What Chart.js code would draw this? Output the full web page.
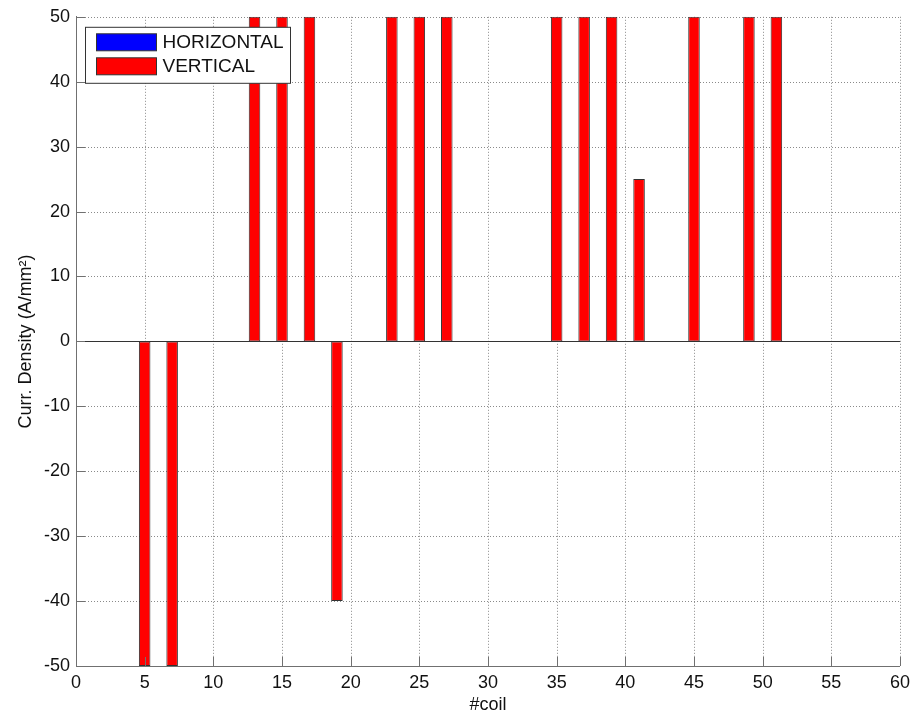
<!DOCTYPE html>
<html>
<head>
<meta charset="utf-8">
<title>Coil current density</title>
<script src="https://cdn.jsdelivr.net/npm/chart.js@4/dist/chart.umd.min.js"></script>
<style>
  html, body { margin: 0; padding: 0; background: #ffffff; }
  #wrap { width: 916px; height: 719px; }
</style>
</head>
<body>
<div id="wrap"><canvas id="c" width="916" height="719"></canvas></div>
<script>
// Coil numbers and current densities (A/mm^2)
const verticalCoils  = [5, 7, 13, 15, 17, 19, 23, 25, 27, 35, 37, 39, 41, 45, 49, 51];
const verticalValues = [-50, -50, 50, 50, 50, -40, 50, 50, 50, 50, 50, 50, 25, 50, 50, 50];
const horizontalCoils  = [];
const horizontalValues = [];

// Axis ranges and tick steps
const xTickRange = [0, 60, 5];
const yTickRange = [-50, 50, 10];

const seriesNames = ['HORIZONTAL', 'VERTICAL'];
const FONT = "'Liberation Sans', Arial, Helvetica, sans-serif";

function pairs(xs, ys) { return xs.map((x, i) => ({ x: x, y: ys[i] })); }

// Dotted grid, zero baseline, inward tick marks and boxed legend
const gridPlugin = {
  id: 'matlabGrid',
  beforeDatasetsDraw(chart) {
    const { ctx, chartArea: a, scales: { x, y } } = chart;
    ctx.save();
    ctx.strokeStyle = '#8a8a8a';
    ctx.lineWidth = 1;
    ctx.setLineDash([1, 2]);
    x.ticks.forEach(t => {
      if (t.value === x.min) return;
      const px = Math.round(x.getPixelForValue(t.value)) + 0.5;
      ctx.beginPath(); ctx.moveTo(px, a.top); ctx.lineTo(px, a.bottom); ctx.stroke();
    });
    y.ticks.forEach(t => {
      if (t.value === y.min) return;
      const py = Math.round(y.getPixelForValue(t.value)) + 0.5;
      ctx.beginPath(); ctx.moveTo(a.left, py); ctx.lineTo(a.right, py); ctx.stroke();
    });
    ctx.setLineDash([]);
    // bar baseline
    const y0 = Math.round(y.getPixelForValue(0)) + 0.5;
    ctx.strokeStyle = '#333333';
    ctx.beginPath(); ctx.moveTo(a.left, y0); ctx.lineTo(a.right, y0); ctx.stroke();
    ctx.restore();
  },
  afterDatasetsDraw(chart) {
    const { ctx, chartArea: a, scales: { x, y } } = chart;
    const len = 9;
    ctx.save();
    ctx.strokeStyle = '#707070';
    ctx.lineWidth = 1;
    x.ticks.forEach(t => {
      const px = Math.round(x.getPixelForValue(t.value)) + 0.5;
      ctx.beginPath(); ctx.moveTo(px, a.bottom); ctx.lineTo(px, a.bottom - len); ctx.stroke();
    });
    y.ticks.forEach(t => {
      const py = Math.round(y.getPixelForValue(t.value)) + 0.5;
      ctx.beginPath(); ctx.moveTo(a.left, py); ctx.lineTo(a.left + len, py); ctx.stroke();
    });
    ctx.restore();
  },
  afterDraw(chart) {
    const { ctx, chartArea: a } = chart;
    const bx = a.left + 9.5, by = a.top + 10.5, bw = 205, bh = 56;
    ctx.save();
    ctx.fillStyle = '#ffffff';
    ctx.fillRect(bx, by, bw, bh);
    ctx.strokeStyle = '#333333';
    ctx.lineWidth = 1;
    ctx.strokeRect(bx, by, bw, bh);
    ctx.font = '19px ' + FONT;
    ctx.textBaseline = 'middle';
    ctx.textAlign = 'left';
    chart.data.datasets.forEach((ds, i) => {
      const sy = by + 6.5 + i * 24;
      ctx.fillStyle = ds.backgroundColor;
      ctx.fillRect(bx + 11, sy, 60, 17);
      ctx.strokeStyle = '#333333';
      ctx.strokeRect(bx + 11, sy, 60, 17);
      ctx.fillStyle = '#111111';
      ctx.fillText(ds.label, bx + 77, sy + 9);
    });
    ctx.restore();
  }
};

new Chart(document.getElementById('c'), {
  type: 'bar',
  data: {
    datasets: [
      {
        label: seriesNames[0],
        data: pairs(horizontalCoils, horizontalValues),
        backgroundColor: '#0000ff',
        borderColor: '#333333',
        borderWidth: 1,
        borderSkipped: false,
        grouped: false,
        barPercentage: 0.42,
        categoryPercentage: 1
      },
      {
        label: seriesNames[1],
        data: pairs(verticalCoils, verticalValues),
        backgroundColor: '#ff0000',
        borderColor: '#333333',
        borderWidth: 1,
        borderSkipped: false,
        grouped: false,
        barPercentage: 0.42,
        categoryPercentage: 1,
        clip: 0
      }
    ]
  },
  options: {
    responsive: false,
    animation: false,
    layout: { padding: { top: 15, right: 16, left: 0, bottom: 0 } },
    plugins: {
      legend: { display: false },
      tooltip: { enabled: false }
    },
    scales: {
      x: {
        type: 'linear',
        offset: false,
        min: xTickRange[0],
        max: xTickRange[1],
        afterFit(s) { s.height = 53; },
        ticks: {
          stepSize: xTickRange[2],
          padding: 6,
          maxRotation: 0,
          autoSkip: false,
          color: '#111111',
          font: { family: FONT, size: 18 }
        },
        grid: { display: false, drawTicks: false, offset: false },
        border: { display: true, color: '#707070', width: 1 },
        title: {
          display: true,
          text: '#coil',
          color: '#111111',
          font: { family: FONT, size: 18 },
          padding: { top: 0, bottom: 3 }
        }
      },
      y: {
        min: yTickRange[0],
        max: yTickRange[1],
        afterFit(s) { s.width = 76; },
        ticks: {
          stepSize: yTickRange[2],
          padding: 6,
          autoSkip: false,
          color: '#111111',
          font: { family: FONT, size: 18 }
        },
        grid: { display: false, drawTicks: false },
        border: { display: true, color: '#707070', width: 1 },
        title: {
          display: true,
          text: 'Curr. Density (A/mm²)',
          color: '#111111',
          font: { family: FONT, size: 18 },
          padding: { top: 15, bottom: 0 }
        }
      }
    }
  },
  plugins: [gridPlugin]
});
</script>
</body>
</html>
